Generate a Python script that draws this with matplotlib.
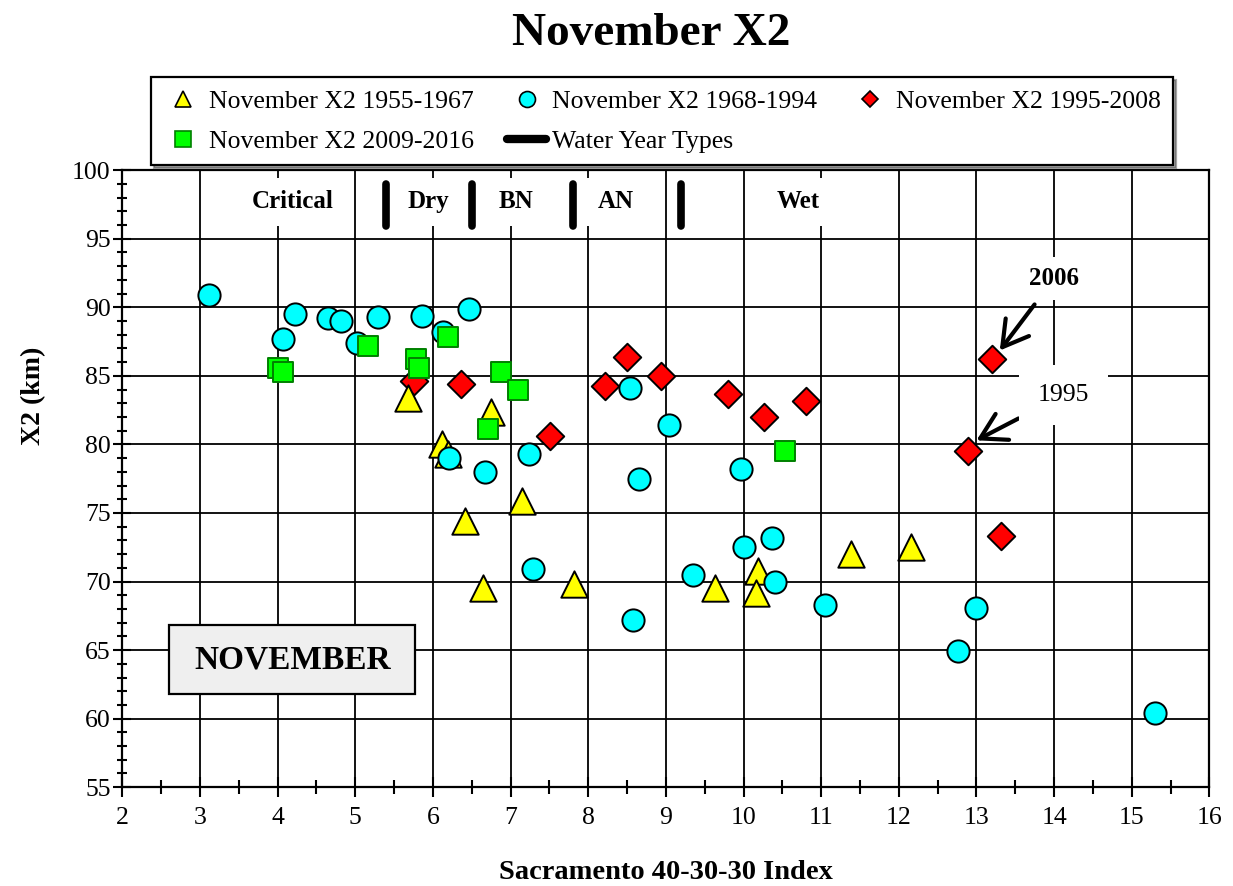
import matplotlib
matplotlib.use("Agg")
import matplotlib.pyplot as plt
from matplotlib.lines import Line2D
from matplotlib.patches import Rectangle
from matplotlib.ticker import MultipleLocator

plt.rcParams['font.family'] = ['Liberation Serif', 'DejaVu Serif']

# November X2 1955-1967 (triangles)
tri_x = [5.68, 6.12, 6.19, 6.75, 7.15, 6.41, 6.65, 7.82, 9.63, 10.19, 10.16, 11.38, 12.16]
tri_y = [83.4, 80.0, 79.3, 82.4, 75.9, 74.4, 69.5, 69.8, 69.5, 70.8, 69.2, 72.0, 72.5]

# November X2 1968-1994 (circles)
circ_x = [3.12, 4.22, 4.07, 4.65, 4.81, 5.02, 5.29, 5.86, 6.13, 6.47, 6.21, 6.67, 7.24, 8.54,
          9.04, 8.65, 9.97, 7.29, 8.58, 9.35, 10.00, 10.37, 10.40, 11.05, 12.99, 12.76, 15.30]
circ_y = [90.9, 89.5, 87.7, 89.2, 89.0, 87.4, 89.3, 89.4, 88.2, 89.9, 79.0, 78.0, 79.3, 84.1,
          81.4, 77.5, 78.2, 70.9, 67.2, 70.5, 72.5, 73.2, 70.0, 68.3, 68.1, 64.9, 60.4]

# November X2 1995-2008 (diamonds)
dia_x = [5.76, 6.36, 7.51, 8.21, 8.50, 8.94, 9.80, 10.26, 10.81, 13.20, 12.89, 13.31]
dia_y = [84.6, 84.4, 80.6, 84.25, 86.4, 85.0, 83.7, 82.0, 83.2, 86.2, 79.5, 73.3]

# November X2 2009-2016 (squares)
sq_x = [4.01, 4.07, 5.17, 5.78, 5.82, 6.19, 6.88, 7.09, 6.71, 10.54]
sq_y = [85.6, 85.3, 87.2, 86.2, 85.6, 87.8, 85.3, 84.0, 81.1, 79.5]

# water year type boundaries and labels
wy_bounds = [5.4, 6.5, 7.8, 9.2]
wy_names = ["Critical", "Dry", "BN", "AN", "Wet"]
wy_label_x = [4.2, 5.94, 7.07, 8.35, 10.71]

fig = plt.figure(figsize=(12.33, 8.86), dpi=100)
ax = fig.add_axes([0.0992, 0.1115, 0.8817, 0.6964])

ax.set_xlim(2, 16)
ax.set_ylim(55, 100)
ax.xaxis.set_major_locator(MultipleLocator(1))
ax.xaxis.set_minor_locator(MultipleLocator(0.5))
ax.yaxis.set_major_locator(MultipleLocator(5))
ax.yaxis.set_minor_locator(MultipleLocator(1))
ax.grid(True, which='major', color='black', lw=1.3)
ax.set_axisbelow(True)
for s in ax.spines.values():
    s.set_linewidth(1.6)

ax.tick_params(axis='x', which='major', direction='inout', length=15, width=1.5, labelsize=18.5, pad=7)
ax.tick_params(axis='x', which='minor', direction='inout', length=10, width=1.5)
ax.tick_params(axis='y', which='major', direction='inout', length=13, width=1.5, labelsize=18.5, pad=2)
ax.tick_params(axis='y', which='minor', direction='inout', length=7, width=1.5)

ax.scatter(dia_x, dia_y, marker='D', s=14**2, c='#ff0000', edgecolors='black', linewidths=1.4, zorder=3)
ax.scatter(tri_x, tri_y, marker='^', s=19**2, c='#ffff00', edgecolors='black', linewidths=1.4, zorder=4)
ax.scatter(circ_x, circ_y, marker='o', s=16**2, c='#00ffff', edgecolors='black', linewidths=1.4, zorder=5)
ax.scatter(sq_x, sq_y, marker='s', s=14**2, c='#00ff00', edgecolors='#008000', linewidths=1.4, zorder=6)

# water year type labels and dividers
for name, lx in zip(wy_names, wy_label_x):
    ax.text(lx, 97.7, name, ha='center', va='center', fontsize=18, fontweight='bold', zorder=7,
            bbox=dict(boxstyle='square,pad=0.5', fc='white', ec='none'))
wy = ax.vlines(wy_bounds, 95.9, 99.0, colors='black', lw=5.5, zorder=8)
wy.set_capstyle('round')

# NOVEMBER box
ax.add_patch(Rectangle((2.6, 61.8), 3.17, 5.0, fc='#efefef', ec='black', lw=1.6, zorder=7))
ax.text(4.19, 64.3, "NOVEMBER", ha='center', va='center', fontsize=24, fontweight='bold', zorder=8)

# year annotations
arrow = dict(arrowstyle='->,head_length=0.6,head_width=0.35', lw=3, color='black',
             mutation_scale=30, shrinkB=0)
ax.annotate("2006", xy=(13.30, 86.85), xytext=(14.0, 92.1), fontsize=18, fontweight='bold',
            ha='center', va='center', zorder=9,
            bbox=dict(boxstyle='square,pad=0.4', fc='white', ec='none'),
            arrowprops=dict(arrow, shrinkA=4))
ax.annotate("1995", xy=(13.0, 80.3), xytext=(14.12, 83.6), fontsize=18.5,
            ha='center', va='center', zorder=9,
            bbox=dict(boxstyle='square,pad=0.75', fc='white', ec='none'),
            arrowprops=dict(arrow, shrinkA=0))

ax.set_xlabel("Sacramento 40-30-30 Index", fontsize=20.5, fontweight='bold', labelpad=22)
ax.set_ylabel("X2 (km)", fontsize=20, fontweight='bold')
ax.yaxis.set_label_coords(-0.07, 0.635)

fig.text(0.528, 0.962, "November X2", ha='center', va='center', fontsize=34, fontweight='bold')

handles = [
    Line2D([], [], ls='none', marker='^', ms=12, mfc='#ffff00', mec='black', mew=1.2),
    Line2D([], [], ls='none', marker='s', ms=11.5, mfc='#00ff00', mec='#008000', mew=1.2),
    Line2D([], [], ls='none', marker='o', ms=11.5, mfc='#00ffff', mec='black', mew=1.2),
    Line2D([], [], color='black', lw=6, solid_capstyle='round'),
    Line2D([], [], ls='none', marker='D', ms=8, mfc='#ff0000', mec='black', mew=1.2),
]
labels = ["November X2 1955-1967", "November X2 2009-2016", "November X2 1968-1994",
          "Water Year Types", "November X2 1995-2008"]
leg = fig.legend(handles, labels, ncol=3, loc='upper left', bbox_to_anchor=(0.1225, 0.913),
                 fontsize=18.5, frameon=True, fancybox=False, shadow=True, edgecolor='black',
                 handlelength=1.5, handletextpad=0.25, columnspacing=1.3, borderpad=0.5,
                 labelspacing=0.65, borderaxespad=0)
leg.get_frame().set_linewidth(1.6)

fig.savefig("out.png", dpi=100)
